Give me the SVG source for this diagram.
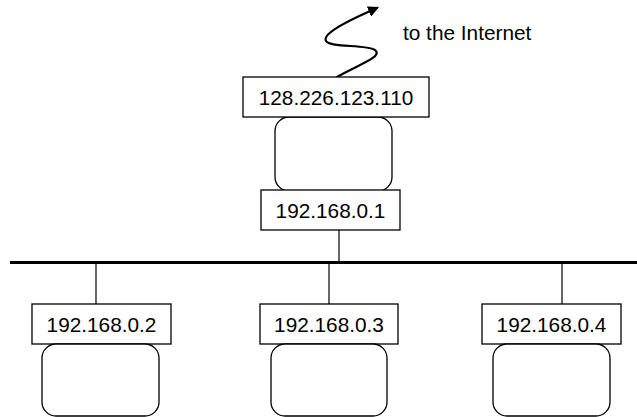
<svg xmlns="http://www.w3.org/2000/svg" width="637" height="417" viewBox="0 0 637 417">
  <style>
    .box { fill: #fff; stroke: #000; stroke-width: 1.3; }
    .dev { fill: #fff; stroke: #000; stroke-width: 1.3; }
    .lbl { font-family: "Liberation Sans", Arial, sans-serif; font-size: 20.8px; fill: #000; text-anchor: middle; }
    .note { font-family: "Liberation Sans", Arial, sans-serif; font-size: 20.8px; fill: #000; }
    .wire { stroke: #000; stroke-width: 1.2; fill: none; }
    .bus { stroke: #000; stroke-width: 3.2; fill: none; }
    .uplink { stroke: #000; stroke-width: 2.2; fill: none; stroke-linecap: round; }
  </style>
  <defs>
    <marker id="arrow" viewBox="0 0 10 10" refX="8" refY="5" markerWidth="5" markerHeight="5" orient="auto" markerUnits="strokeWidth">
      <path d="M0,0 L10,5 L0,10 z" fill="#000"/>
    </marker>
  </defs>

  <!-- connectors -->
  <g id="connectors">
    <line class="bus" x1="10" y1="262.5" x2="637" y2="262.5"/>
    <line class="wire" x1="339" y1="230" x2="339" y2="262"/>
    <line class="wire" x1="96" y1="263" x2="96" y2="304"/>
    <line class="wire" x1="329" y1="263" x2="329" y2="304"/>
    <line class="wire" x1="562" y1="263" x2="562" y2="304"/>
    <path class="uplink" marker-end="url(#arrow)" d="M337,77 C355,66 384,57 375,50 C366,44 330,48 326,41 C322,34 345,22 377,8"/>
    <text class="note" x="403" y="40">to the Internet</text>
  </g>

  <!-- router with public and private interfaces -->
  <g id="router">
    <rect class="dev" x="275" y="117" width="117" height="74" rx="14"/>
    <rect class="box" x="243" y="77" width="186" height="40"/>
    <text class="lbl" x="336" y="104.5">128.226.123.110</text>
    <rect class="box" x="261" y="190" width="139" height="40"/>
    <text class="lbl" x="330.5" y="218">192.168.0.1</text>
  </g>

  <!-- hosts on the local network -->
  <g id="host2">
    <rect class="box" x="32" y="304" width="139" height="40"/>
    <text class="lbl" x="101.5" y="332">192.168.0.2</text>
    <rect class="dev" x="42" y="344" width="117" height="72" rx="14"/>
  </g>
  <g id="host3">
    <rect class="box" x="260" y="304" width="138" height="40"/>
    <text class="lbl" x="329" y="332">192.168.0.3</text>
    <rect class="dev" x="271" y="344" width="116" height="72" rx="14"/>
  </g>
  <g id="host4">
    <rect class="box" x="482" y="304" width="139" height="40"/>
    <text class="lbl" x="551.5" y="332">192.168.0.4</text>
    <rect class="dev" x="493" y="344" width="117" height="72" rx="14"/>
  </g>
</svg>
